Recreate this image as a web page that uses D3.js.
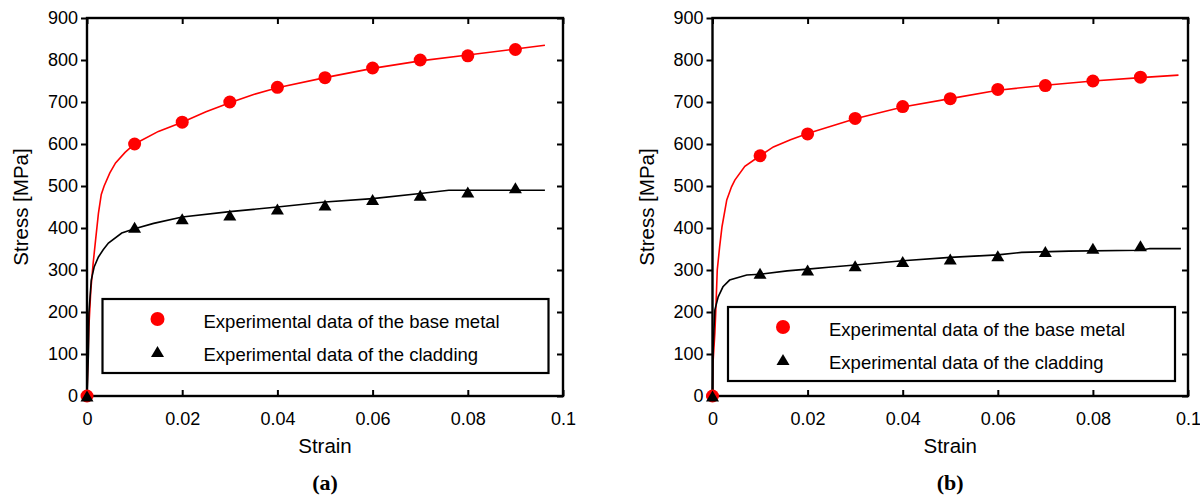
<!DOCTYPE html>
<html>
<head>
<meta charset="utf-8">
<script src="https://cdn.jsdelivr.net/npm/d3@7"></script>
<style>
body { margin: 0; background: #fff; }
</style>
</head>
<body>
<div id="graph"></div>
<script>
// axis ticks
var strainTicks = [0, 0.02, 0.04, 0.06, 0.08, 0.1];
var strainTickLabels = ["0", "0.02", "0.04", "0.06", "0.08", "0.1"];
var stressTicks = [0, 100, 200, 300, 400, 500, 600, 700, 800, 900];

// experimental points (same strains for every series)
var expStrain = [0, 0.01, 0.02, 0.03, 0.04, 0.05, 0.06, 0.07, 0.08, 0.09];
var expBaseA = [0, 600, 652, 700, 735, 758, 781, 800, 810, 825];
var expCladA = [0, 402, 422, 431, 445, 455, 468, 478, 486, 496];
var expBaseB = [0, 572, 624, 661, 689, 708, 730, 739, 750, 759];
var expCladB = [0, 292, 300, 310, 320, 326, 334, 344, 352, 358];

// fitted curves, panel (a)
var curveBaseStrainA = [0, 0.0002, 0.0004, 0.0008, 0.0013, 0.0018, 0.0024, 0.003, 0.0036, 0.0048, 0.006, 0.008,
    0.01, 0.015, 0.02, 0.025, 0.03, 0.035, 0.04, 0.05, 0.06, 0.07, 0.08, 0.09, 0.0962];
var curveBaseStressA = [0, 90, 165, 252, 317, 371, 435, 480, 500, 531, 555, 580,
    600, 630, 652, 677, 698, 718, 734, 758, 780, 798, 812, 826, 835];
var curveCladStrainA = [0, 0.0003, 0.0004, 0.0009, 0.0015, 0.0024, 0.0034, 0.0045, 0.0073, 0.01, 0.014,
    0.02, 0.03, 0.04, 0.05, 0.06, 0.07, 0.076, 0.0962];
var curveCladStressA = [0, 102, 198, 276, 307, 331, 348, 364, 388, 398, 411,
    426, 439, 450, 462, 470, 482, 490, 490];

// fitted curves, panel (b)
var curveBaseStrainB = [0, 0.0001, 0.0005, 0.0007, 0.001, 0.0015, 0.002, 0.003, 0.004, 0.0047, 0.0068, 0.01,
    0.0128, 0.0164, 0.02, 0.03, 0.04, 0.05, 0.06, 0.07, 0.08, 0.09, 0.098];
var curveBaseStressB = [0, 78, 150, 205, 300, 355, 403, 467, 498, 514, 547, 572,
    593, 610, 625, 660, 688, 708, 728, 740, 750, 758, 764];
var curveCladStrainB = [0, 0.0001, 0.0003, 0.0005, 0.0012, 0.0022, 0.0036, 0.0072, 0.01, 0.0157, 0.02, 0.025,
    0.03, 0.04, 0.05, 0.06, 0.065, 0.075, 0.09, 0.092, 0.0985];
var curveCladStressB = [0, 102, 157, 205, 236, 260, 276, 288, 290, 298, 302, 307,
    312, 322, 330, 336, 342, 345, 347, 351, 351];

var legendLabels = ["Experimental data of the base metal", "Experimental data of the cladding"];

var width = 1200;
var height = 496;
var sans = "Liberation Sans, Arial, sans-serif";
var serif = "Liberation Serif, Times New Roman, serif";

var svg = d3.select("#graph").append("svg")
    .attr("width", width)
    .attr("height", height)
    .attr("font-family", sans);

function zip(xs, ys) {
    return xs.map(function(d, i) { return [d, ys[i]]; });
}

function triangle(cx, cy, w, h) {
    return "M" + (cx - w / 2) + "," + (cy + h / 2) +
        "L" + cx + "," + (cy - h / 2) +
        "L" + (cx + w / 2) + "," + (cy + h / 2) + "Z";
}

function drawPanel(p) {
    var x = d3.scaleLinear().domain([0, 0.1]).range([p.left, p.right]);
    var y = d3.scaleLinear().domain([0, 900]).range([p.bottom, p.top]);
    var g = svg.append("g").attr("class", "panel");

    var line = d3.line()
        .x(function(d) { return x(d[0]); })
        .y(function(d) { return y(d[1]); });

    // curves
    g.append("path")
        .attr("d", line(zip(p.baseStrain, p.baseStress)))
        .attr("fill", "none")
        .attr("stroke", "#ff0000")
        .attr("stroke-width", 1.6);
    g.append("path")
        .attr("d", line(zip(p.cladStrain, p.cladStress)))
        .attr("fill", "none")
        .attr("stroke", "#000")
        .attr("stroke-width", 1.6);

    // axes
    var xb = g.append("g")
        .attr("transform", "translate(0," + p.bottom + ")")
        .call(d3.axisBottom(x).tickValues(strainTicks).tickSizeInner(-6).tickSizeOuter(0).tickPadding(16)
            .tickFormat(function(d, i) { return strainTickLabels[i]; }));
    var xt = g.append("g")
        .attr("transform", "translate(0," + p.top + ")")
        .call(d3.axisTop(x).tickValues(strainTicks).tickSizeInner(-6).tickSizeOuter(0).tickFormat(""));
    var yl = g.append("g")
        .attr("transform", "translate(" + p.left + ",0)")
        .call(d3.axisLeft(y).tickValues(stressTicks).tickSizeInner(6).tickSizeOuter(0).tickPadding(3));
    var yr = g.append("g")
        .attr("transform", "translate(" + p.right + ",0)")
        .call(d3.axisRight(y).tickValues(stressTicks).tickSizeInner(-6).tickSizeOuter(0).tickFormat(""));

    [xb, xt, yl, yr].forEach(function(a) {
        a.select(".domain").remove();
        a.selectAll("line").attr("stroke", "#000").attr("stroke-width", 2);
        a.selectAll("text")
            .attr("font-family", sans)
            .attr("font-size", 18)
            .attr("fill", "#000");
    });

    g.append("rect")
        .attr("x", p.left)
        .attr("y", p.top)
        .attr("width", p.right - p.left)
        .attr("height", p.bottom - p.top)
        .attr("fill", "none")
        .attr("stroke", "#000")
        .attr("stroke-width", 2.4);

    // experimental markers
    g.selectAll(".dot")
        .data(zip(expStrain, p.expBase))
        .enter()
        .append("circle")
        .attr("class", "dot")
        .attr("cx", function(d) { return x(d[0]); })
        .attr("cy", function(d) { return y(d[1]); })
        .attr("r", 6.5)
        .attr("fill", "#ff0000");
    g.selectAll(".tri")
        .data(zip(expStrain, p.expClad))
        .enter()
        .append("path")
        .attr("class", "tri")
        .attr("d", function(d) { return triangle(x(d[0]), y(d[1]), 13, 11); })
        .attr("fill", "#000");

    // legend
    var lg = g.append("g")
        .attr("transform", "translate(" + (p.left + p.legendX) + "," + p.legendY + ")");
    lg.append("rect")
        .attr("width", p.legendW)
        .attr("height", 74)
        .attr("fill", "#fff")
        .attr("stroke", "#000")
        .attr("stroke-width", 2.2);
    lg.append("circle")
        .attr("cx", 55)
        .attr("cy", 20)
        .attr("r", 7)
        .attr("fill", "#ff0000");
    lg.append("path")
        .attr("d", triangle(55, 52.5, 13, 11))
        .attr("fill", "#000");
    lg.selectAll(".leg-text")
        .data(legendLabels)
        .enter()
        .append("text")
        .attr("class", "leg-text")
        .attr("x", 101)
        .attr("y", function(d, i) { return 29 + i * 32.5; })
        .attr("font-size", 18.5)
        .text(function(d) { return d; });

    // titles
    var cx = (p.left + p.right) / 2;
    g.append("text")
        .attr("x", cx)
        .attr("y", 453)
        .attr("text-anchor", "middle")
        .attr("font-size", 20.5)
        .text("Strain");
    g.append("text")
        .attr("transform", "translate(" + (p.left - 59) + "," + ((p.top + p.bottom) / 2) + ") rotate(-90)")
        .attr("text-anchor", "middle")
        .attr("font-size", 20.5)
        .text("Stress [MPa]");
    g.append("text")
        .attr("x", cx)
        .attr("y", 490)
        .attr("text-anchor", "middle")
        .attr("font-family", serif)
        .attr("font-weight", "bold")
        .attr("font-size", 22)
        .text(p.tag);
}

drawPanel({
    left: 87, right: 563, top: 18, bottom: 396,
    baseStrain: curveBaseStrainA, baseStress: curveBaseStressA,
    cladStrain: curveCladStrainA, cladStress: curveCladStressA,
    expBase: expBaseA, expClad: expCladA,
    legendX: 15.5, legendY: 299, legendW: 446,
    tag: "(a)"
});

drawPanel({
    left: 712.5, right: 1188, top: 18, bottom: 396,
    baseStrain: curveBaseStrainB, baseStress: curveBaseStressB,
    cladStrain: curveCladStrainB, cladStress: curveCladStressB,
    expBase: expBaseB, expClad: expCladB,
    legendX: 15.5, legendY: 307, legendW: 447,
    tag: "(b)"
});
</script>
</body>
</html>
